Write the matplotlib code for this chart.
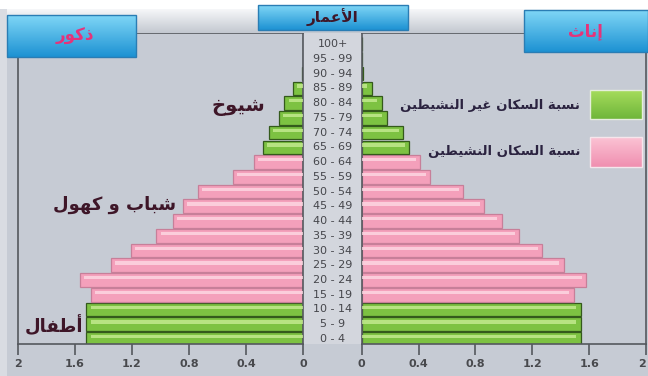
import numpy as np
import matplotlib
matplotlib.use('Agg')
import matplotlib.pyplot as plt
from matplotlib.patches import Rectangle
from matplotlib.colors import LinearSegmentedColormap
from matplotlib.transforms import blended_transform_factory

# ---------------- data ----------------
age_groups = ['0 - 4', '5 - 9', '10 - 14', '15 - 19', '20 - 24', '25 - 29',
              '30 - 34', '35 - 39', '40 - 44', '45 - 49', '50 - 54', '55 - 59',
              '60 - 64', '65 - 69', '70 - 74', '75 - 79', '80 - 84', '85 - 89',
              '90 - 94', '95 - 99', '100+']
male_values = [1.52, 1.52, 1.52, 1.49, 1.565, 1.35, 1.21, 1.03, 0.915, 0.845,
               0.74, 0.49, 0.345, 0.28, 0.24, 0.17, 0.13, 0.07, 0.01, 0.0, 0.0]
female_values = [1.54, 1.54, 1.54, 1.49, 1.58, 1.42, 1.27, 1.11, 0.985, 0.86,
                 0.715, 0.48, 0.41, 0.335, 0.29, 0.175, 0.14, 0.07, 0.01, 0.0, 0.0]
inactive_groups = ['0 - 4', '5 - 9', '10 - 14', '65 - 69', '70 - 74', '75 - 79',
                   '80 - 84', '85 - 89', '90 - 94', '95 - 99', '100+']
x_ticks = [0, 0.4, 0.8, 1.2, 1.6, 2]
x_tick_labels = ['0', '0.4', '0.8', '1.2', '1.6', '2']
title_left = 'ذكور'
title_right = 'إناث'
title_center = 'الأعمار'
label_old = 'شيوخ'
label_adult = 'شباب و كهول'
label_child = 'أطفال'
legend_labels = ['نسبة السكان غير النشيطين', 'نسبة السكان النشيطين']

# ---------------- minimal Arabic shaping ----------------
_FORMS = {
    'ا': ('\ufe8d', '\ufe8e'), 'أ': ('\ufe83', '\ufe84'), 'إ': ('\ufe87', '\ufe88'),
    'ة': ('\ufe93', '\ufe94'), 'ذ': ('\ufeab', '\ufeac'), 'ر': ('\ufead', '\ufeae'),
    'و': ('\ufeed', '\ufeee'),
    'ب': ('\ufe8f', '\ufe90', '\ufe91', '\ufe92'),
    'ت': ('\ufe95', '\ufe96', '\ufe97', '\ufe98'),
    'ث': ('\ufe99', '\ufe9a', '\ufe9b', '\ufe9c'),
    'خ': ('\ufea5', '\ufea6', '\ufea7', '\ufea8'),
    'س': ('\ufeb1', '\ufeb2', '\ufeb3', '\ufeb4'),
    'ش': ('\ufeb5', '\ufeb6', '\ufeb7', '\ufeb8'),
    'ط': ('\ufec1', '\ufec2', '\ufec3', '\ufec4'),
    'ع': ('\ufec9', '\ufeca', '\ufecb', '\ufecc'),
    'غ': ('\ufecd', '\ufece', '\ufecf', '\ufed0'),
    'ف': ('\ufed1', '\ufed2', '\ufed3', '\ufed4'),
    'ك': ('\ufed9', '\ufeda', '\ufedb', '\ufedc'),
    'ل': ('\ufedd', '\ufede', '\ufedf', '\ufee0'),
    'م': ('\ufee1', '\ufee2', '\ufee3', '\ufee4'),
    'ن': ('\ufee5', '\ufee6', '\ufee7', '\ufee8'),
    'ه': ('\ufee9', '\ufeea', '\ufeeb', '\ufeec'),
    'ي': ('\ufef1', '\ufef2', '\ufef3', '\ufef4'),
    'لا': ('\ufefb', '\ufefc'), 'لأ': ('\ufef7', '\ufef8'), 'لإ': ('\ufef9', '\ufefa'),
}


def shape(text):
    units = []
    i = 0
    while i < len(text):
        if text[i] == 'ل' and i + 1 < len(text) and text[i + 1] in 'اأإ':
            units.append(text[i:i + 2])
            i += 2
        else:
            units.append(text[i])
            i += 1
    out = []
    for k, u in enumerate(units):
        f = _FORMS.get(u)
        if f is None:
            out.append(u)
            continue
        prev = units[k - 1] if k > 0 else None
        nxt = units[k + 1] if k + 1 < len(units) else None
        jp = prev in _FORMS and len(_FORMS[prev]) == 4
        jn = len(f) == 4 and nxt in _FORMS
        if jp and jn:
            out.append(f[3])
        elif jp:
            out.append(f[1])
        elif jn:
            out.append(f[2])
        else:
            out.append(f[0])
    return ''.join(reversed(out))


# ---------------- style ----------------
BG = '#c6cbd4'
GREEN = '#7dc242'
GREEN_EDGE = '#345a1c'
GREEN_HI = '#c6ec93'
PINK = '#f4a0bb'
PINK_EDGE = '#c77f99'
PINK_HI = '#fdd9e4'
SPINE = '#55585e'
MAROON = '#3e1628'

W, H = 648, 376
fig = plt.figure(figsize=(W / 100, H / 100), dpi=100, facecolor=BG)

# center column (behind axes)
fig.add_artist(Rectangle((303 / W, 1 - 344 / H), (362 - 303) / W, (344 - 33) / H,
                         transform=fig.transFigure, facecolor='#d3d6dd',
                         edgecolor='none', zorder=-1))
# light outer strip on the far left
fig.add_artist(Rectangle((0, 0), 7 / W, 1, transform=fig.transFigure,
                         facecolor='#d9dce2', edgecolor='none', zorder=-1))

y = np.arange(len(age_groups))
is_inactive = np.array([a in inactive_groups for a in age_groups])
colors = np.where(is_inactive, GREEN, PINK)
edges = np.where(is_inactive, GREEN_EDGE, PINK_EDGE)
his = np.where(is_inactive, GREEN_HI, PINK_HI)
males = np.array(male_values)
females = np.array(female_values)

axL = fig.add_axes([18 / W, 1 - 344 / H, (303 - 18) / W, (344 - 33) / H])
axR = fig.add_axes([361.7 / W, 1 - 344 / H, (646 - 361.7) / W, (344 - 33) / H])

for ax, vals in ((axL, males), (axR, females)):
    ax.set_facecolor(BG)
    ax.barh(y, vals, height=0.92, color=colors, edgecolor=edges, linewidth=0.9, zorder=2)
    hw = np.clip(vals - 0.03, 0, None)
    ax.barh(y + 0.16, hw, left=0.0, height=0.22, color=his, alpha=0.8,
            linewidth=0, zorder=3)
    ax.set_ylim(-0.34, 20.75)
    ax.set_yticks([])
    ax.set_xticks(x_ticks)
    ax.set_xticklabels(x_tick_labels)
    ax.tick_params(axis='x', direction='out', length=8, width=1.2, color=SPINE,
                   labelsize=8, labelcolor='#48494d', pad=3)
    for s in ax.spines.values():
        s.set_color(SPINE)
        s.set_linewidth(1.2)
    for lbl in ax.get_xticklabels():
        lbl.set_fontweight('bold')

axL.set_xlim(2, 0)
axR.set_xlim(0, 2)
# keep the last right-hand tick label inside the figure
axR.get_xticklabels()[-1].set_horizontalalignment('right')

# age labels in the center column
tr = blended_transform_factory(fig.transFigure, axL.transData)
for yi, lab in zip(y, age_groups):
    axL.text(333 / W, yi, lab, transform=tr, ha='center', va='center',
             fontsize=8, color='#45464b', clip_on=False)

# ---------------- overlay (headers, labels, legend) ----------------
ov = fig.add_axes([0, 0, 1, 1], zorder=5)
ov.set_facecolor('none')
ov.axis('off')


def grad_rect(x0, y0, x1, y1, ctop, cbot, edge=None, z=1):
    cmap = LinearSegmentedColormap.from_list('g', [ctop, cbot])
    ov.imshow(np.linspace(0, 1, 64)[:, None], cmap=cmap, aspect='auto',
              extent=(x0, x1, y1, y0), zorder=z, interpolation='bilinear')
    if edge:
        ov.add_patch(Rectangle((x0, y0), x1 - x0, y1 - y0, facecolor='none',
                               edgecolor=edge, linewidth=1.0, zorder=z + 0.1))


# top white strip and gray band
grad_rect(0, 0, W, 9, '#ffffff', '#ffffff', z=0.5)
grad_rect(7, 9, W, 33, '#f6f7f9', '#c3c8d0', z=0.6)

# header boxes
grad_rect(7, 15, 136, 57, '#7fd6f6', '#1d92d3', edge='#2a7db4', z=1)
grad_rect(524, 10, 648, 52, '#7fd6f6', '#1d92d3', edge='#2a7db4', z=1)
grad_rect(258, 5, 408, 30, '#7fd6f6', '#1d92d3', edge='#2a7db4', z=1)

ov.text(75, 36, shape(title_left), ha='center', va='center', fontsize=12,
        fontweight='bold', color='#e5337a', zorder=3)
ov.text(585, 31, shape(title_right), ha='center', va='center', fontsize=12,
        fontweight='bold', color='#e5337a', zorder=3)
ov.text(333, 17, shape(title_center), ha='center', va='center', fontsize=11,
        fontweight='bold', color=MAROON, zorder=3)

# age-group annotations
ov.text(238, 107, shape(label_old), ha='center', va='center', fontsize=14,
        fontweight='bold', color=MAROON, zorder=3)
ov.text(115, 205, shape(label_adult), ha='center', va='center', fontsize=13,
        fontweight='bold', color=MAROON, zorder=3)
ov.text(54, 326, shape(label_child), ha='center', va='center', fontsize=13,
        fontweight='bold', color=MAROON, zorder=3)

# legend
grad_rect(590, 90, 642, 119, '#a6dc5c', '#6fb63a', edge='#e6eedd', z=2)
grad_rect(590, 137, 642, 167, '#fbc3d4', '#f08fb0', edge='#f5e6ec', z=2)
ov.text(580, 105, shape(legend_labels[0]), ha='right', va='center', fontsize=9.5,
        fontweight='bold', color='#2b2340', zorder=3)
ov.text(580, 152, shape(legend_labels[1]), ha='right', va='center', fontsize=9.5,
        fontweight='bold', color='#2b2340', zorder=3)

ov.set_xlim(0, W)
ov.set_ylim(H, 0)

fig.savefig('out.png', dpi=100, facecolor=BG)
